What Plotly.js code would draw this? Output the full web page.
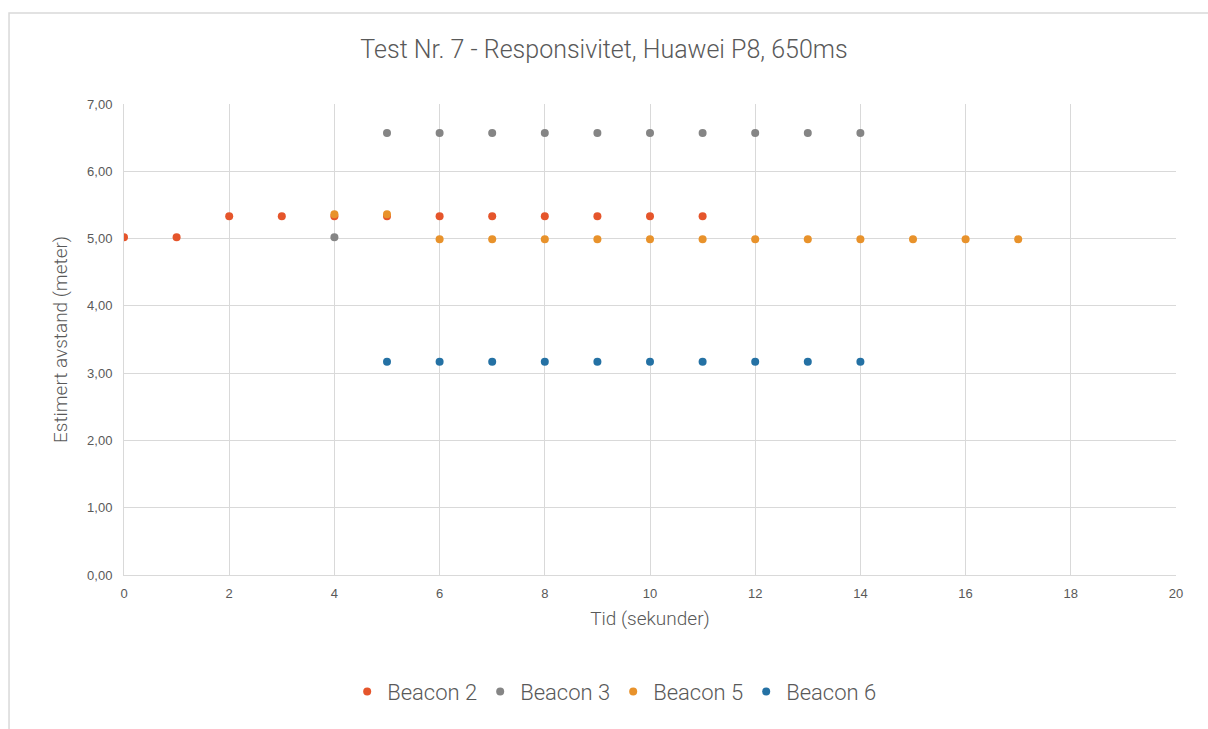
<!DOCTYPE html>
<html>
<head>
<meta charset="utf-8">
<script src="https://cdn.plot.ly/plotly-3.0.1.min.js"></script>
<style>
  html, body { margin: 0; padding: 0; background: #ffffff; }
  #chart { width: 1208px; height: 729px; }
</style>
</head>
<body>
<div id="chart"></div>
<script>
// Time (seconds) and estimated distance (meters) per beacon
const beacon2X = [0, 1, 2, 3, 4, 5, 6, 7, 8, 9, 10, 11];
const beacon2Y = [5.02, 5.02, 5.33, 5.33, 5.33, 5.33, 5.33, 5.33, 5.33, 5.33, 5.33, 5.33];

const beacon3X = [4, 5, 6, 7, 8, 9, 10, 11, 12, 13, 14];
const beacon3Y = [5.02, 6.57, 6.57, 6.57, 6.57, 6.57, 6.57, 6.57, 6.57, 6.57, 6.57];

const beacon5X = [4, 5, 6, 7, 8, 9, 10, 11, 12, 13, 14, 15, 16, 17];
const beacon5Y = [5.36, 5.36, 4.99, 4.99, 4.99, 4.99, 4.99, 4.99, 4.99, 4.99, 4.99, 4.99, 4.99, 4.99];

const beacon6X = [5, 6, 7, 8, 9, 10, 11, 12, 13, 14];
const beacon6Y = [3.17, 3.17, 3.17, 3.17, 3.17, 3.17, 3.17, 3.17, 3.17, 3.17];

const seriesNames = ['Beacon 2', 'Beacon 3', 'Beacon 5', 'Beacon 6'];
const seriesColors = ['#E5552B', '#858585', '#E8922B', '#2471A4'];

const xs = [beacon2X, beacon3X, beacon5X, beacon6X];
const ys = [beacon2Y, beacon3Y, beacon5Y, beacon6Y];

const traces = seriesNames.map((name, i) => ({
  type: 'scatter',
  mode: 'markers',
  name: name,
  x: xs[i],
  y: ys[i],
  marker: { color: seriesColors[i], size: 8, line: { width: 0 } }
}));

const gridColor = '#d9d9d9';
const textFont = 'Roboto, "Open Sans", sans-serif';
const tickFont = '"Liberation Sans", Arial, sans-serif';

const layout = {
  width: 1208,
  height: 729,
  paper_bgcolor: '#ffffff',
  plot_bgcolor: '#ffffff',
  separators: ', ',
  margin: { l: 124, r: 32, t: 104, b: 154 },
  title: {
    text: 'Test Nr. 7 - Responsivitet, Huawei P8, 650ms',
    font: { family: textFont, size: 25, weight: 300, color: '#595959' },
    x: 0.5, xanchor: 'center',
    y: 0.932, yanchor: 'middle'
  },
  xaxis: {
    range: [0, 20],
    tickvals: [0, 2, 4, 6, 8, 10, 12, 14, 16, 18, 20],
    showgrid: true,
    gridcolor: gridColor,
    gridwidth: 1,
    zeroline: false,
    showline: true,
    linecolor: gridColor,
    linewidth: 1,
    ticks: '',
    ticklabelstandoff: 6,
    tickfont: { family: tickFont, size: 13, color: '#595959' },
    title: {
      text: 'Tid (sekunder)',
      font: { family: textFont, size: 19, weight: 300, color: '#595959' },
      standoff: 12
    }
  },
  yaxis: {
    range: [0, 7],
    dtick: 1,
    tickformat: '.2f',
    showgrid: true,
    gridcolor: gridColor,
    gridwidth: 1,
    zeroline: false,
    showline: true,
    linecolor: gridColor,
    linewidth: 1,
    ticks: '',
    ticklabelstandoff: 8,
    tickfont: { family: tickFont, size: 13, color: '#595959' },
    title: {
      text: 'Estimert avstand (meter)',
      font: { family: textFont, size: 19, weight: 300, color: '#595959' },
      standoff: 14
    }
  },
  showlegend: true,
  legend: {
    orientation: 'h',
    x: 0.465, xanchor: 'center',
    y: -0.248, yanchor: 'middle',
    font: { family: textFont, size: 22, weight: 300, color: '#595959' },
    itemwidth: 30,
    entrywidth: 88,
    entrywidthmode: 'pixels',
    tracegroupgap: 0
  },
  shapes: [{
    type: 'rect',
    xref: 'paper', yref: 'paper',
    x0: -0.1093, x1: 1.04,
    y0: -0.36, y1: 1.193,
    line: { color: '#d9d9d9', width: 1.5 },
    layer: 'below'
  }]
};

Plotly.newPlot('chart', traces, layout, { displayModeBar: false, staticPlot: true });
</script>
</body>
</html>
